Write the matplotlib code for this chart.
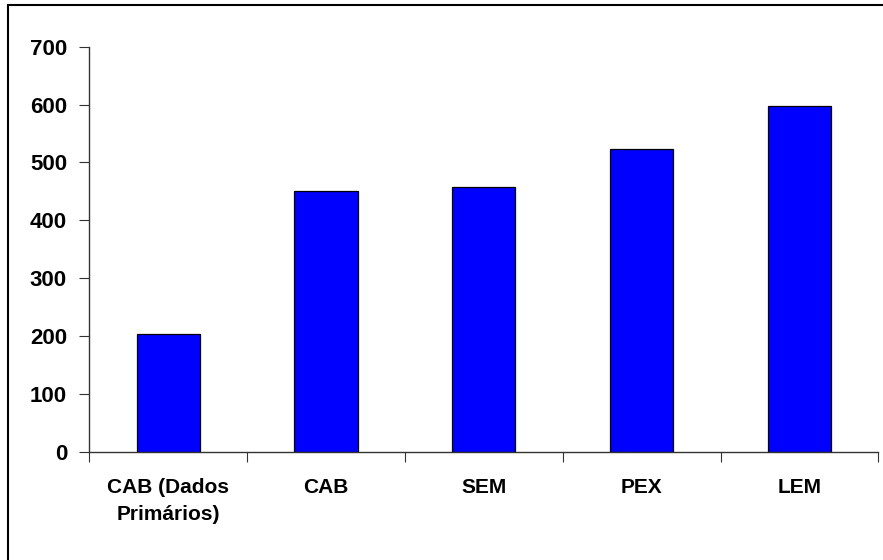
import matplotlib.pyplot as plt
from matplotlib.patches import Rectangle
import numpy as np

CATEGORIES = ['CAB (Dados\nPrimários)', 'CAB', 'SEM', 'PEX', 'LEM']
VALUES = [203, 451, 458, 524, 597]
YTICKS = [0, 100, 200, 300, 400, 500, 600, 700]
BAR_COLOR = '#0000FF'

plt.rcParams['font.family'] = ['Liberation Sans', 'DejaVu Sans']

fig = plt.figure(figsize=[8.83, 5.6], dpi=100)
ax = fig.add_axes([0.1011, 0.1934, 0.8936, 0.7232])

x = np.arange(len(CATEGORIES))
ax.bar(x, VALUES, width=0.4, color=BAR_COLOR, edgecolor='black', linewidth=0.9)

ax.set_xlim(-0.5, len(CATEGORIES) - 0.5)
ax.set_ylim(0, 700)
ax.set_yticks(YTICKS)
ax.set_yticklabels([str(v) for v in YTICKS], fontsize=16, fontweight='bold')

# category labels sit between the boundary ticks
ax.set_xticks(np.arange(len(CATEGORIES) + 1) - 0.5)
ax.set_xticklabels([])
ax.set_xticks(x, minor=True)
ax.set_xticklabels(CATEGORIES, minor=True, fontsize=15, fontweight='bold',
                   linespacing=1.55)
ax.tick_params(axis='x', which='minor', length=0, pad=19)
ax.tick_params(axis='x', which='major', direction='out', length=7, color='#333333')
ax.tick_params(axis='y', direction='out', length=7, color='#333333', pad=9)

for side in ('top', 'right'):
    ax.spines[side].set_visible(False)
for side in ('left', 'bottom'):
    ax.spines[side].set_color('#333333')
    ax.spines[side].set_linewidth(1.0)

# outer frame around the chart area
fig.patches.append(Rectangle((8 / 883, -0.1), 1.2, 1.1 - 5 / 560,
                             transform=fig.transFigure, fill=False,
                             edgecolor='black', linewidth=1.5))

plt.savefig('out.png', dpi=100)
